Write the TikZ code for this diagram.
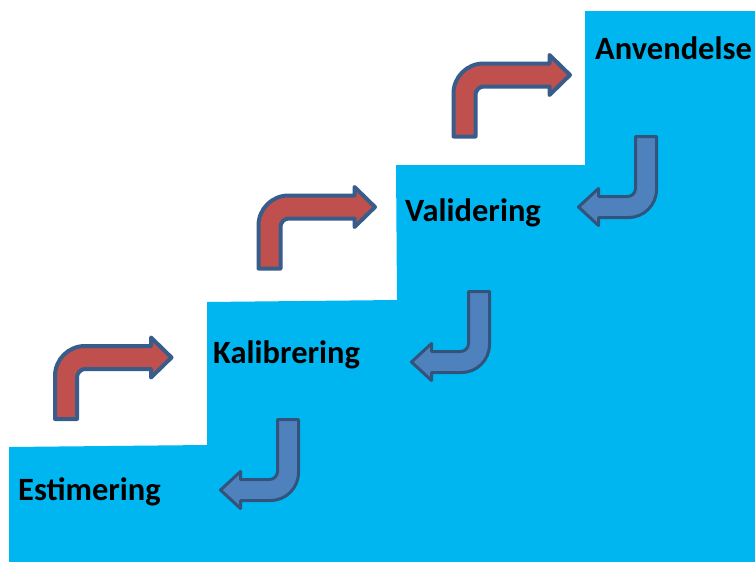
\documentclass[tikz,border=0pt]{standalone}
\usepackage{fontspec}
\setmainfont{Carlito}
\definecolor{stair}{RGB}{0,182,240}
\definecolor{redfill}{RGB}{192,80,77}
\definecolor{bluefill}{RGB}{79,129,189}
\definecolor{edgeblue}{RGB}{56,93,138}
\tikzset{
  label/.style={inner sep=0pt,anchor=base west,font=\fontsize{32.5}{36}\selectfont\bfseries},
  redarrowstyle/.style={fill=redfill,draw=edgeblue,line width=4pt,line join=round},
  bluearrowstyle/.style={fill=bluefill,draw=edgeblue!90!black,line width=3pt,line join=round},
  uparrow/.pic={
    \path[redarrowstyle] (0,0) -- (0,-43) .. controls (0,-59.57) and (13.43,-73) .. (30,-73)
      -- (96,-73) -- (96,-81.5) -- (116.5,-61.5) -- (96,-41.5) -- (96,-50) -- (30,-50)
      .. controls (25.58,-50) and (22,-45.58) .. (22,-42) -- (22,0) -- cycle;
  },
  downarrow/.pic={
    \path[bluearrowstyle] (0,0) -- (0,53) .. controls (0,68.46) and (-12.54,81) .. (-28,81)
      -- (-58,81) -- (-58,89) -- (-78,70.5) -- (-58,52) -- (-58,60) -- (-29,60)
      .. controls (-24.58,60) and (-21,56.42) .. (-21,52) -- (-21,0) -- cycle;
  }
}
\begin{document}
\begin{tikzpicture}[x=1pt,y=-1pt]
\useasboundingbox (0,0) rectangle (755,562);
\fill[white] (0,0) rectangle (755,562);
\fill[stair] (9,562) -- (9,447) -- (207,445) -- (207,302) -- (397,300) -- (396,165)
  -- (585,165) -- (585,11) -- (755,11) -- (755,562) -- cycle;
\pic at (55,419) {uparrow};
\pic at (258.5,268.5) {uparrow};
\pic at (453.5,136.5) {uparrow};
\pic at (656.5,136.5) {downarrow};
\pic at (489.5,291.5) {downarrow};
\pic at (298.5,419.5) {downarrow};
\node[label] (est) at (18,500) {Estimering};
\node[label] (kal) at (213,363) {Kalibrering};
\node[label] (val) at (405,221) {Validering};
\node[label] (anv) at (595,59) {Anvendelse};
\end{tikzpicture}
\end{document}
